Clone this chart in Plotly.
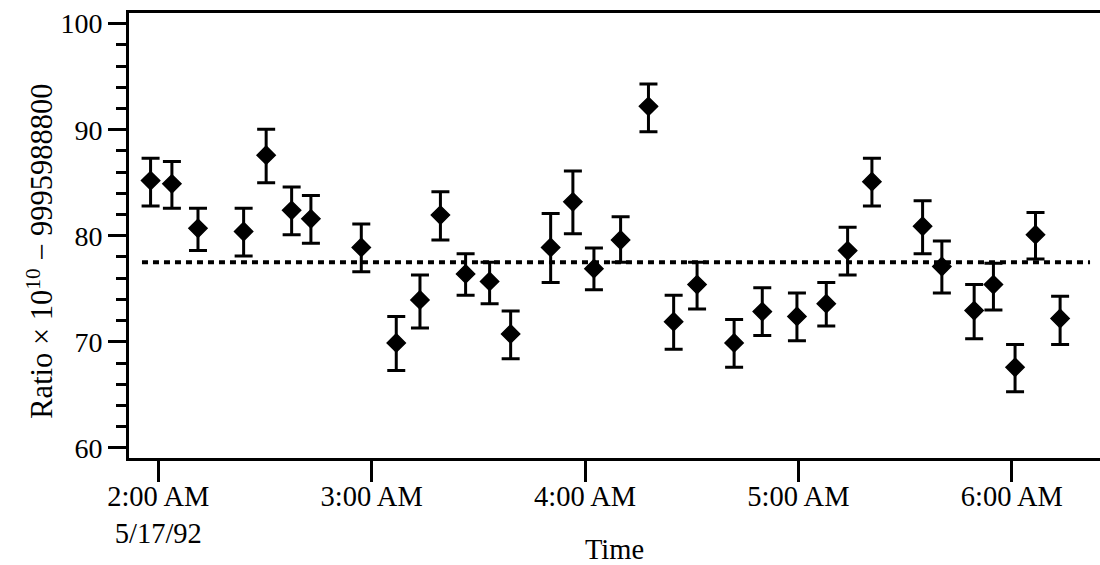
import plotly.graph_objects as go

# ---- data ----
times = [
    "1992-05-17 01:57:50", "1992-05-17 02:03:50", "1992-05-17 02:11:10", "1992-05-17 02:24:00",
    "1992-05-17 02:30:20", "1992-05-17 02:37:30", "1992-05-17 02:42:55", "1992-05-17 02:57:05",
    "1992-05-17 03:06:55", "1992-05-17 03:13:35", "1992-05-17 03:19:20", "1992-05-17 03:26:25",
    "1992-05-17 03:33:10", "1992-05-17 03:39:05", "1992-05-17 03:50:20", "1992-05-17 03:56:35",
    "1992-05-17 04:02:30", "1992-05-17 04:10:00", "1992-05-17 04:17:50", "1992-05-17 04:24:55",
    "1992-05-17 04:31:30", "1992-05-17 04:41:55", "1992-05-17 04:49:50", "1992-05-17 04:59:35",
    "1992-05-17 05:07:50", "1992-05-17 05:13:50", "1992-05-17 05:20:40", "1992-05-17 05:34:55",
    "1992-05-17 05:40:20", "1992-05-17 05:49:25", "1992-05-17 05:54:50", "1992-05-17 06:00:55",
    "1992-05-17 06:06:40", "1992-05-17 06:13:35",
]
ratio = [85.2, 84.9, 80.7, 80.4, 87.6, 82.4, 81.6, 78.9, 69.9, 73.95, 81.95, 76.4,
         75.7, 70.75, 78.9, 83.2, 76.9, 79.6, 92.2, 71.9, 75.4, 69.9, 72.85, 72.4,
         73.6, 78.6, 85.1, 80.9, 77.1, 72.95, 75.4, 67.6, 80.1, 72.2]
err_high = [87.3, 87.0, 82.6, 82.6, 90.05, 84.6, 83.8, 81.1, 72.4, 76.3, 84.15, 78.3,
            77.5, 72.9, 82.1, 86.1, 78.85, 81.8, 94.3, 74.4, 77.5, 72.1, 75.1, 74.6,
            75.6, 80.8, 87.3, 83.3, 79.5, 75.4, 77.4, 69.75, 82.2, 74.3]
err_low = [82.8, 82.6, 78.6, 78.1, 85.0, 80.1, 79.3, 76.6, 67.3, 71.3, 79.6, 74.4,
           73.6, 68.4, 75.6, 80.2, 74.9, 77.5, 89.8, 69.3, 73.1, 67.6, 70.6, 70.1,
           71.5, 76.3, 82.8, 78.3, 74.6, 70.3, 73.0, 65.3, 77.8, 69.75]

mean_value = 77.5
mean_span = ["1992-05-17 01:55:25", "1992-05-17 06:22:00"]

tick_times = ["1992-05-17 02:00", "1992-05-17 03:00", "1992-05-17 04:00",
              "1992-05-17 05:00", "1992-05-17 06:00"]
tick_labels = ["2:00 AM<br>5/17/92", "3:00 AM", "4:00 AM", "5:00 AM", "6:00 AM"]
y_ticks = [60, 70, 80, 90, 100]
y_title = "Ratio × 10<sup>10</sup> − 9995988800"

FONT = "Liberation Serif, Times New Roman, serif"

plus = [h - v for h, v in zip(err_high, ratio)]
minus = [v - l for v, l in zip(ratio, err_low)]

fig = go.Figure()
fig.add_trace(go.Scatter(
    x=mean_span, y=[mean_value, mean_value], mode="lines",
    line=dict(color="black", width=4, dash="6px,5px"),
    hoverinfo="skip", showlegend=False,
))
fig.add_trace(go.Scatter(
    x=times, y=ratio, mode="markers",
    marker=dict(symbol="diamond", size=14, color="black", line=dict(color="black", width=1.5)),
    error_y=dict(type="data", symmetric=False, array=plus, arrayminus=minus,
                 color="black", thickness=3, width=9),
    showlegend=False,
))

fig.update_layout(
    width=1100, height=565,
    margin=dict(l=129, r=0, t=13, b=107),
    paper_bgcolor="white", plot_bgcolor="white",
    font=dict(family=FONT, size=28, color="black"),
    showlegend=False,
)
fig.update_xaxes(
    type="date",
    range=["1992-05-17 01:51:46", "1992-05-17 06:24:48"],
    tickvals=tick_times, ticktext=tick_labels,
    ticks="outside", ticklen=21, tickwidth=3, tickcolor="black",
    ticklabelstandoff=-10, automargin=False,
    showline=True, linewidth=3, linecolor="black", mirror=True,
    showgrid=False, zeroline=False,
    tickfont=dict(family=FONT, size=28.5),
    title=dict(text="Time", font=dict(family=FONT, size=28.5), standoff=16),
)
fig.update_yaxes(
    range=[59.05, 101.0],
    tickvals=y_ticks, ticksuffix="\u00a0\u200a",
    ticks="outside", ticklen=18, tickwidth=3, tickcolor="black",
    automargin=False,
    minor=dict(dtick=2, tick0=60, ticks="outside", ticklen=10, tickwidth=3, tickcolor="black", showgrid=False),
    showline=True, linewidth=3, linecolor="black",
    showgrid=False, zeroline=False,
    tickfont=dict(family=FONT, size=28),
)
fig.add_annotation(
    text=y_title, textangle=-90, showarrow=False,
    xref="paper", yref="paper", x=-0.092, y=0.465,
    xanchor="center", yanchor="middle",
    font=dict(family=FONT, size=30.5, color="black"),
)

fig.write_html("out.html")
